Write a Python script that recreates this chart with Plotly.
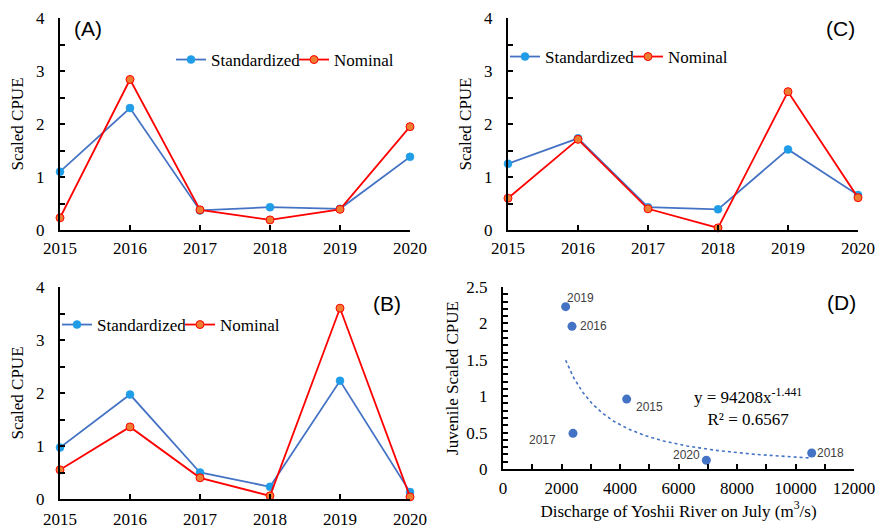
import numpy as np
import plotly.graph_objects as go

years = [2015, 2016, 2017, 2018, 2019, 2020]

a_std = [1.10, 2.30, 0.37, 0.43, 0.40, 1.38]
a_nom = [0.23, 2.84, 0.38, 0.19, 0.39, 1.95]

c_std = [1.25, 1.73, 0.43, 0.39, 1.52, 0.66]
c_nom = [0.60, 1.71, 0.40, 0.04, 2.61, 0.61]

b_std = [0.97, 1.97, 0.50, 0.23, 2.23, 0.13]
b_nom = [0.55, 1.36, 0.40, 0.06, 3.60, 0.04]

d_labels = ["2019", "2016", "2015", "2017", "2020", "2018"]
d_discharge = [2142, 2359, 4228, 2393, 6952, 10553]
d_cpue = [2.23, 1.96, 0.96, 0.49, 0.12, 0.22]
# label offsets (px) relative to each point
d_dx = [15, 21, 23, -31, -20, 19]
d_dy = [-9, 0, 8, 7, -5, 0]

trend_a = 94208
trend_b = -1.441

SERIF = "Liberation Serif"
SANS = "Liberation Sans"
BLUE_LINE = "#4472C4"
BLUE_MK = "#1F9DE6"
RED_LINE = "#FF0000"
ORANGE_MK = "#ED7D31"

W, H = 875, 525


def px_x(p):
    return p / W


def px_y(p):
    return 1 - p / H


fig = go.Figure()

panels = [
    ("x", "y", a_std, a_nom, "legend"),
    ("x2", "y2", c_std, c_nom, "legend2"),
    ("x3", "y3", b_std, b_nom, "legend3"),
]
for xa, ya, s, n, lg in panels:
    fig.add_trace(go.Scatter(
        x=years, y=s, mode="lines+markers", name="Standardized",
        xaxis=xa, yaxis=ya, legend=lg, cliponaxis=False,
        line=dict(color=BLUE_LINE, width=1.8),
        marker=dict(size=8, color=BLUE_MK, line=dict(color=BLUE_MK, width=0.5)),
    ))
    fig.add_trace(go.Scatter(
        x=years, y=n, mode="lines+markers", name="Nominal",
        xaxis=xa, yaxis=ya, legend=lg, cliponaxis=False,
        line=dict(color=RED_LINE, width=1.8),
        marker=dict(size=8, color=ORANGE_MK, line=dict(color=RED_LINE, width=1)),
    ))

# Panel D trend line (power fit as displayed)
tx = np.linspace(min(d_discharge), max(d_discharge), 200)
ty = trend_a * tx ** trend_b
fig.add_trace(go.Scatter(
    x=tx, y=ty, mode="lines", xaxis="x4", yaxis="y4", showlegend=False,
    line=dict(color=BLUE_LINE, width=1.6, dash="dot"), hoverinfo="skip",
))
fig.add_trace(go.Scatter(
    x=d_discharge, y=d_cpue, mode="markers", xaxis="x4", yaxis="y4",
    showlegend=False, cliponaxis=False,
    marker=dict(size=9, color=BLUE_LINE),
))

annotations = []
for lab, xv, yv, dx, dy in zip(d_labels, d_discharge, d_cpue, d_dx, d_dy):
    annotations.append(dict(
        x=xv, y=yv, xref="x4", yref="y4", text=lab, showarrow=False,
        xanchor="center", yanchor="middle",
        xshift=dx, yshift=-dy, font=dict(family=SANS, size=12, color="#404040"),
    ))

annotations.append(dict(
    x=px_x(748), y=px_y(407), xref="paper", yref="paper", showarrow=False,
    xanchor="center", yanchor="middle",
    text="y = 94208x<sup>-1.441</sup><br>R² = 0.6567", align="center",
    font=dict(family=SERIF, size=17, color="black"),
))

for lab, cx, cy in [("(A)", 88, 29), ("(C)", 840, 28), ("(B)", 387, 303), ("(D)", 841, 302)]:
    annotations.append(dict(
        x=px_x(cx), y=px_y(cy), xref="paper", yref="paper", showarrow=False,
        xanchor="center", yanchor="middle",
        text=lab, font=dict(family=SANS, size=21, color="black"),
    ))

TFONT = dict(family=SERIF, size=17, color="black")

axis_common = dict(
    showline=True, linecolor="black", linewidth=2, showgrid=False, zeroline=False,
    ticks="inside", ticklen=5, tickwidth=1.5, tickcolor="black",
    automargin=False, ticklabeloverflow="allow",
)


def xyear(domain, anchor, standoff):
    return dict(axis_common, domain=domain, anchor=anchor, range=[2015, 2020],
                tickmode="array", tickvals=years, ticktext=[str(v) for v in years],
                tickfont=dict(TFONT), ticklabelstandoff=standoff)


def ycpue(domain, anchor):
    return dict(axis_common, domain=domain, anchor=anchor, range=[0, 4], dtick=1,
                tickfont=dict(TFONT),
                minor=dict(dtick=0.5, ticks="inside", ticklen=5, tickwidth=1.5,
                           tickcolor="black", showgrid=False),
                ticklabelstandoff=10,
                title=dict(text="Scaled CPUE", font=dict(TFONT), standoff=8))


xA = [px_x(60), px_x(410)]
xC = [px_x(508), px_x(858)]
yTop = [px_y(230), px_y(18)]
yB = [px_y(499), px_y(287)]
xD = [px_x(503), px_x(854)]
yD = [px_y(469), px_y(287)]

legend_common = dict(orientation="h", xanchor="left", yanchor="middle",
                     bgcolor="rgba(0,0,0,0)", font=dict(TFONT),
                     entrywidth=78, entrywidthmode="pixels")

fig.update_layout(
    width=W, height=H, margin=dict(l=0, r=0, t=0, b=0, autoexpand=False),
    paper_bgcolor="white", plot_bgcolor="white",
    font=dict(family=SERIF, size=17, color="black"),
    xaxis=xyear(xA, "y", 2), yaxis=ycpue(yTop, "x"),
    xaxis2=xyear(xC, "y2", 2), yaxis2=ycpue(yTop, "x2"),
    xaxis3=xyear(xA, "y3", 4), yaxis3=ycpue(yB, "x3"),
    xaxis4=dict(axis_common, domain=xD, anchor="y4", range=[0, 12000], dtick=2000,
                tickformat="d", ticklabelstandoff=3, tickfont=dict(TFONT),
                minor=dict(dtick=1000, ticks="inside", ticklen=5, tickwidth=1.5,
                           tickcolor="black", showgrid=False),
                title=dict(text="Discharge of Yoshii River on July (m<sup>3</sup>/s)",
                           font=dict(TFONT), standoff=0)),
    yaxis4=dict(axis_common, domain=yD, anchor="x4", range=[0, 2.5], dtick=0.5,
                ticklabelstandoff=10, tickfont=dict(TFONT),
                minor=dict(dtick=0.1, ticks="inside", ticklen=5, tickwidth=1.5,
                           tickcolor="black", showgrid=False),
                title=dict(text="Juvenile Scaled CPUE", font=dict(TFONT), standoff=3)),
    legend=dict(legend_common, x=px_x(171), y=px_y(60)),
    legend2=dict(legend_common, x=px_x(505), y=px_y(57)),
    legend3=dict(legend_common, x=px_x(57), y=px_y(325)),
    annotations=annotations,
)

fig.write_html("out.html", config={"displayModeBar": False},
               post_script=["document.body.style.margin='0';"])
